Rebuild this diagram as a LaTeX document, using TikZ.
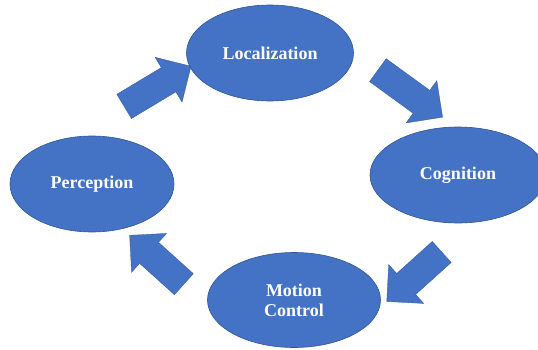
\documentclass[tikz,border=0pt]{standalone}
\usepackage{fontspec}
\setmainfont{Liberation Serif}
\usepackage{tikz}
\usetikzlibrary{shapes.geometric,shapes.arrows}
\definecolor{boxblue}{HTML}{4472C4}
\definecolor{edgeblue}{HTML}{2F5597}
\tikzstyle{stage}=[ellipse,fill=boxblue,draw=edgeblue,line width=0.6pt,minimum width=167pt,minimum height=96pt,inner sep=0pt,text=white,font=\fontsize{18}{20}\selectfont\bfseries,align=center]
\tikzstyle{flow}=[single arrow,fill=boxblue,draw=edgeblue,line width=0.3pt,inner xsep=0pt,inner ysep=14pt,single arrow head extend=12pt]

\begin{document}
\begin{tikzpicture}[x=1pt,y=1pt]
      \useasboundingbox (0,0) rectangle (538,349);
      \node[stage] (loc) at (270, 296) {Localization};
      \node[stage, minimum width=176pt] (cog) at (458, 174) {Cognition};
      \node[stage, minimum width=164pt] (perc) at (92, 165) {Perception};
      \node[stage, minimum width=173pt, minimum height=95pt] (mot) at (294, 49) {Motion\\Control};

      \node[flow, minimum height=78pt, rotate=31] (a1) at (151.5, 259) {};
      \node[flow, minimum height=80pt, rotate=-36] (a2) at (404.5, 259.5) {};
      \node[flow, minimum height=74pt, rotate=-138] (a3) at (419.5, 77) {};
      \node[flow, minimum height=73pt, rotate=138] (a4) at (162, 84.5) {};
    \end{tikzpicture}
\end{document}
